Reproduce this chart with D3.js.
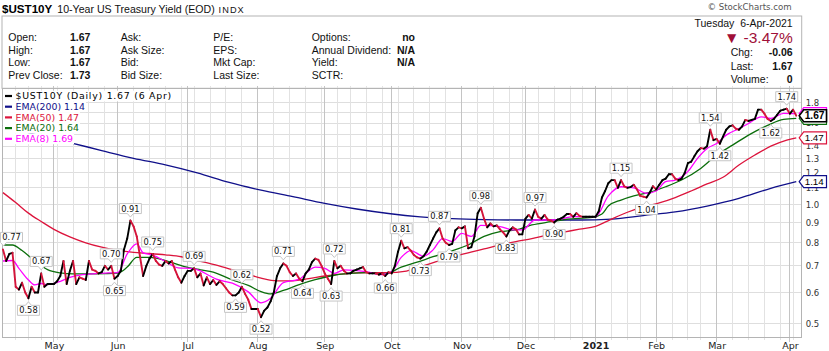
<!DOCTYPE html>
<html><head><meta charset="utf-8">
<script src="https://cdn.jsdelivr.net/npm/d3@7"></script>
<style>
body{margin:0;background:#fff;}
svg{display:block;}
</style></head><body>
<svg id="c" width="829" height="351"></svg>
<script>
// ---------------- data ----------------
const firstIdx = -16; // trading-day index of first value (8-Apr-2020), 0 = 1-May-2020
const monthLabels = ["May","Jun","Jul","Aug","Sep","Oct","Nov","Dec","2021","Feb","Mar","Apr"];
const monthStartIdx = [0,20,42,64,85,106,128,148,170,189,208,231];
const weekStartIdx = [-12,-8,-4,1,6,11,16,25,30,35,40,44,49,54,59,69,74,79,84,89,93,98,103,108,113,118,123,133,138,143,147,152,157,162,166,175,180,184,194,199,203,213,218,223,228,232];
const yTicks = [0.5,0.6,0.7,0.8,0.9,1.0,1.1,1.2,1.3,1.4,1.5,1.6,1.7,1.8];
const yTickLabels = [0.5,0.6,0.7,0.8,0.9,1.0,1.1,1.2,1.3,1.4,1.6,1.8]; // 1.5 and 1.7 sit under the value tags

const yields = [
 0.77,0.72,0.75,0.755,0.62,0.61,0.635,0.60,0.58,0.62,0.60,0.60,0.67,0.62,0.63,0.63,
 0.63,0.64,0.66,0.72,0.63,0.68,0.72,0.63,0.655,0.65,0.645,0.72,0.685,0.68,0.67,0.675,0.70,0.685,0.70,0.65,
 0.66,0.68,0.77,0.82,0.91,0.88,0.83,0.74,0.66,0.70,0.73,0.75,0.72,0.705,0.70,0.72,0.71,0.72,0.685,0.655,0.635,0.66,
 0.68,0.68,0.69,0.655,0.67,0.625,0.655,0.63,0.645,0.627,0.64,0.63,0.615,0.60,0.59,0.59,0.60,0.62,0.595,0.575,0.545,0.545,
 0.545,0.52,0.54,0.55,0.57,0.60,0.66,0.69,0.71,0.70,0.675,0.66,0.67,0.65,0.64,0.67,0.685,0.715,0.73,0.725,0.70,
 0.67,0.65,0.63,0.72,0.69,0.70,0.68,0.67,0.67,0.68,0.685,0.69,0.695,0.675,0.67,0.67,0.67,0.665,0.67,0.66,0.675,
 0.67,0.70,0.76,0.81,0.775,0.78,0.765,0.745,0.735,0.73,0.74,0.76,0.79,0.82,0.85,0.87,0.82,0.80,0.79,0.795,0.86,0.875,
 0.87,0.88,0.775,0.78,0.83,0.95,0.98,0.92,0.875,0.895,0.88,0.885,0.865,0.85,0.83,0.86,0.875,0.865,0.84,0.84,
 0.92,0.94,0.92,0.97,0.93,0.92,0.94,0.915,0.91,0.90,0.915,0.92,0.93,0.945,0.945,0.93,0.95,0.935,0.93,0.93,0.93,0.93,
 0.93,0.96,1.04,1.08,1.13,1.15,1.15,1.10,1.15,1.11,1.10,1.105,1.12,1.09,1.05,1.045,1.04,1.07,1.11,
 1.09,1.12,1.15,1.16,1.19,1.19,1.16,1.15,1.16,1.20,1.27,1.28,1.32,1.36,1.385,1.38,1.40,1.54,1.45,
 1.46,1.42,1.48,1.54,1.57,1.58,1.55,1.54,1.57,1.63,1.62,1.63,1.64,1.73,1.73,1.69,1.64,1.62,1.64,1.68,1.72,1.73,1.74,
 1.69,1.73,1.67
];

const ema200 = [[-16,1.58],[-6,1.50],[5,1.43],[15,1.365],[25,1.305],[35,1.257],[45,1.20],[55,1.135],[65,1.085],[75,1.045],[85,1.005],[95,0.973],[105,0.948],[115,0.93],[125,0.92],[135,0.915],[145,0.913],[155,0.913],[165,0.913],[175,0.918],[185,0.937],[195,0.957],[205,0.99],[215,1.035],[225,1.097],[233,1.14]];
const ema50 = [[-16,1.07],[-12,1.01],[-8,0.95],[-4,0.905],[0,0.865],[5,0.828],[10,0.80],[15,0.78],[20,0.766],[25,0.757],[30,0.752],[35,0.746],[40,0.738],[45,0.722],[50,0.706],[55,0.688],[60,0.67],[65,0.652],[70,0.642],[75,0.642],[80,0.65],[85,0.66],[90,0.667],[95,0.672],[100,0.673],[105,0.673],[110,0.678],[115,0.697],[120,0.717],[125,0.737],[130,0.755],[135,0.772],[140,0.79],[145,0.806],[150,0.82],[155,0.837],[160,0.851],[165,0.866],[170,0.88],[175,0.918],[180,0.955],[185,0.985],[190,1.008],[195,1.04],[200,1.08],[205,1.125],[210,1.17],[215,1.255],[220,1.33],[225,1.40],[230,1.45],[233,1.47]];
const ema20 = [[-16,0.79],[-13,0.79],[-10,0.765],[-6,0.72],[-2,0.685],[2,0.672],[6,0.668],[11,0.668],[16,0.669],[20,0.671],[23,0.695],[26,0.735],[30,0.735],[35,0.722],[41,0.697],[46,0.684],[50,0.675],[56,0.645],[61,0.625],[65,0.603],[68,0.595],[72,0.607],[77,0.628],[82,0.646],[88,0.663],[93,0.67],[98,0.673],[104,0.668],[109,0.695],[114,0.715],[119,0.738],[124,0.76],[130,0.79],[135,0.83],[140,0.853],[145,0.862],[150,0.887],[156,0.904],[161,0.917],[169,0.927],[172,0.945],[174,0.99],[178,1.025],[182,1.05],[187,1.072],[192,1.107],[197,1.151],[203,1.231],[208,1.33],[213,1.409],[218,1.493],[224,1.58],[229,1.635],[233,1.645]];
const ema8 = [[-16,0.72],[-13,0.722],[-11,0.69],[-8,0.645],[-6,0.627],[-4,0.632],[-2,0.628],[2,0.64],[5,0.655],[9,0.665],[12,0.668],[17,0.672],[20,0.673],[23,0.75],[26,0.795],[28,0.755],[31,0.745],[35,0.718],[39,0.692],[43,0.69],[46,0.68],[49,0.66],[51,0.648],[56,0.633],[61,0.602],[65,0.565],[68,0.58],[72,0.635],[77,0.648],[82,0.695],[85,0.69],[88,0.67],[91,0.684],[98,0.677],[103,0.665],[106,0.677],[109,0.735],[112,0.765],[116,0.74],[119,0.768],[122,0.82],[125,0.806],[128,0.845],[131,0.83],[134,0.885],[140,0.879],[144,0.862],[147,0.862],[151,0.913],[157,0.913],[163,0.931],[170,0.931],[174,1.05],[178,1.107],[182,1.10],[186,1.066],[189,1.08],[192,1.14],[195,1.151],[199,1.21],[202,1.305],[205,1.382],[208,1.422],[211,1.493],[215,1.55],[218,1.597],[222,1.66],[225,1.644],[229,1.693],[233,1.69]];

// swing labels: [trading-day index, side]
const swingLabels = [[-16,"up"],[-8,"down"],[-4,"up"],[18,"up"],[19,"down"],[24,"up"],[31,"up"],[44,"up"],[57,"down"],[59,"up"],[65,"down"],[72,"up"],[78,"down"],[87,"down"],[88,"up"],[104,"down"],[109,"up"],[115,"down"],[121,"up"],[124,"down"],[134,"up"],[142,"down"],[151,"up"],[157,"down"],[178,"up"],[186,"down"],[206,"up"],[209,"down"],[225,"down"],[230,"up"]];

const legendItems = [
  {text:"$UST10Y (Daily) 1.67 (6 Apr)", color:"#000000"},
  {text:"EMA(200) 1.14", color:"#10108a"},
  {text:"EMA(50) 1.47", color:"#dc143c"},
  {text:"EMA(20) 1.64", color:"#0b6e0b"},
  {text:"EMA(8) 1.69", color:"#ff00ff"}
];
const infoRows = [
  ["Open:","1.67","Ask:","P/E:","Options:","no"],
  ["High:","1.67","Ask Size:","EPS:","Annual Dividend:","N/A"],
  ["Low:","1.67","Bid:","Mkt Cap:","Yield:","N/A"],
  ["Prev Close:","1.73","Bid Size:","Last Size:","SCTR:",""]
];
const quoteRows = [["Chg:","-0.06"],["Last:","1.67"],["Volume:","0"]];

// ---------------- drawing ----------------
const svg = d3.select("#c");
const L = 2, R = 801.7, T = 88.3, B = 337.7;
const x = d3.scaleLinear().domain([-16.3, 234.7]).range([L, R]);
const y = d3.scaleLog().domain([0.4617, 1.958]).range([B, T]);
const SANS = "'Liberation Sans', Arial, sans-serif";
const DV = "'DejaVu Sans', Verdana, sans-serif";

// header
svg.append("text").attr("x",2).attr("y",12.5).attr("font-family",SANS).attr("font-weight","bold").attr("font-size",11.6).text("$UST10Y");
svg.append("text").attr("x",57.3).attr("y",12.5).attr("font-family",SANS).attr("font-size",10.6).attr("fill","#111").text("10-Year US Treasury Yield (EOD)");
svg.append("text").attr("x",218.5).attr("y",12.5).attr("font-family",SANS).attr("font-size",9.2).attr("letter-spacing",1.1).attr("fill","#111").text("INDX");
svg.append("text").attr("x",791.7).attr("y",10).attr("text-anchor","end").attr("font-family",DV).attr("font-size",8.6).attr("fill","#555").text("\u00A9 StockCharts.com");

svg.append("rect").attr("x",L).attr("y",16).attr("width",R-L).attr("height",T-16).attr("fill","#fff").attr("stroke","#b4b4b4").attr("stroke-width",1);

const rowY = [41, 53.7, 66.4, 79];
infoRows.forEach((r,i)=>{
  const g = svg.append("g").attr("font-family",SANS).attr("font-size",10.5).attr("fill","#111");
  g.append("text").attr("x",8.3).attr("y",rowY[i]).text(r[0]);
  g.append("text").attr("x",70).attr("y",rowY[i]).attr("font-weight","bold").text(r[1]);
  g.append("text").attr("x",120.7).attr("y",rowY[i]).text(r[2]);
  g.append("text").attr("x",213.3).attr("y",rowY[i]).text(r[3]);
  g.append("text").attr("x",311.7).attr("y",rowY[i]).text(r[4]);
  if (r[5]) g.append("text").attr("x",415).attr("y",rowY[i]).attr("text-anchor","end").attr("font-weight","bold").text(r[5]);
});
svg.append("text").attr("x",792.7).attr("y",26.7).attr("text-anchor","end").attr("font-family",SANS).attr("font-size",10.5).attr("fill","#111").attr("xml:space","preserve").text("Tuesday  6-Apr-2021");
svg.append("text").attr("x",792.7).attr("y",43).attr("text-anchor","end").attr("font-family",SANS).attr("font-size",15.5).attr("fill","#a00f38").text("\u25BC -3.47%");
quoteRows.forEach((r,i)=>{
  const yy = 56 + i*13.6;
  svg.append("text").attr("x",730.7).attr("y",yy).attr("font-family",SANS).attr("font-size",10.5).attr("fill","#111").text(r[0]);
  svg.append("text").attr("x",792.7).attr("y",yy).attr("text-anchor","end").attr("font-family",SANS).attr("font-size",10.5).attr("font-weight","bold").attr("fill","#111").text(r[1]);
});

// plot frame + grid
svg.append("rect").attr("x",L).attr("y",T).attr("width",R-L).attr("height",B-T).attr("fill","#fff").attr("stroke","none");
const grid = svg.append("g");
grid.selectAll("line.h").data(yTicks).join("line")
  .attr("x1",L).attr("x2",R).attr("y1",d=>y(d)).attr("y2",d=>y(d))
  .attr("stroke","#dedede").attr("stroke-width",1).attr("shape-rendering","crispEdges");
grid.selectAll("line.w").data(weekStartIdx).join("line")
  .attr("x1",d=>x(d)).attr("x2",d=>x(d)).attr("y1",T-2).attr("y2",B+2)
  .attr("stroke","#e2e2e2").attr("stroke-width",1).attr("shape-rendering","crispEdges");
grid.selectAll("line.m").data(monthStartIdx).join("line")
  .attr("x1",d=>x(d)).attr("x2",d=>x(d)).attr("y1",T-2).attr("y2",B+4)
  .attr("stroke","#c4c4c4").attr("stroke-width",1).attr("shape-rendering","crispEdges");
svg.append("rect").attr("x",L).attr("y",T).attr("width",R-L).attr("height",B-T).attr("fill","none").attr("stroke","#b4b4b4").attr("stroke-width",1).attr("shape-rendering","crispEdges");

// month axis
const xAxis = d3.axisBottom(x).tickValues(monthStartIdx).tickSize(0).tickFormat((d,i)=>monthLabels[i]);
const xg = svg.append("g").attr("transform",`translate(0,${B})`).call(xAxis);
xg.select(".domain").remove();
xg.selectAll("text").attr("font-family",DV).attr("font-size",9.5).attr("fill","#222").attr("dy","0").attr("y",11)
  .attr("font-weight",(d,i)=>monthLabels[i]==="2021"?"bold":"normal");

// y axis labels (right)
const yAxis = d3.axisRight(y).tickValues(yTickLabels).tickSize(0).tickPadding(4).tickFormat(d3.format(".1f"));
const yg = svg.append("g").attr("transform",`translate(${R},0)`).call(yAxis);
yg.select(".domain").remove();
yg.selectAll("text").attr("font-family",DV).attr("font-size",8.5).attr("fill","#333");

// clip
svg.append("clipPath").attr("id","plot").append("rect").attr("x",L).attr("y",T).attr("width",R-L).attr("height",B-T);
const plot = svg.append("g").attr("clip-path","url(#plot)");

const emaLine = d3.line().x(d=>x(d[0])).y(d=>y(d[1])).curve(d3.curveMonotoneX);
[[ema200,"#10108a"],[ema50,"#dc143c"],[ema20,"#0b6e0b"],[ema8,"#ff00ff"]].forEach(([data,col])=>{
  plot.append("path").datum(data).attr("d",emaLine).attr("fill","none").attr("stroke",col).attr("stroke-width",1.3);
});

// price line: black on up days, red on down days
const pts = yields.map((v,i)=>[firstIdx+i, v]);
const segs = d3.pairs(pts);
plot.selectAll("line.p").data(segs).join("line")
  .attr("x1",d=>x(d[0][0])).attr("y1",d=>y(d[0][1]))
  .attr("x2",d=>x(d[1][0])).attr("y2",d=>y(d[1][1]))
  .attr("stroke",d=>d[1][1] < d[0][1] ? "#d4143a" : "#000")
  .attr("stroke-width",1.9).attr("stroke-linecap","round");

// swing labels
const fmt = d3.format(".2f");
const lab = svg.append("g");
swingLabels.forEach(([idx,side])=>{
  const v = yields[idx-firstIdx];
  const px = x(idx), py = y(v);
  const w = 22, h = 10;
  const cx = Math.max(px, w/2 + 0.5);   // keep the box inside the picture
  const up = side === "up";
  const bTop = up ? py - 7 - h : py + 7;
  const bBot = bTop + h;
  const x0 = cx - w/2, x1 = cx + w/2;
  const tx = Math.max(px, x0 + 3);
  let p;
  if (up) p = `M${x0},${bTop}H${x1}V${bBot}H${tx+3}L${tx},${bBot+3.5}L${tx-3},${bBot}H${x0}Z`;
  else p = `M${x0},${bTop}H${tx-3}L${tx},${bTop-3.5}L${tx+3},${bTop}H${x1}V${bBot}H${x0}Z`;
  lab.append("path").attr("d",p).attr("fill","#fff").attr("stroke","#c6c6c6").attr("stroke-width",1);
  lab.append("text").attr("x",cx).attr("y",bTop + h/2).attr("dy","0.36em").attr("text-anchor","middle")
    .attr("font-family",DV).attr("font-size",8.3).attr("fill","#111").text(fmt(v));
});

// legend
const lg = svg.append("g");
legendItems.forEach((it,i)=>{
  const cy = 96 + i*10.7;
  const t = lg.append("text").attr("x",15.5).attr("y",cy).attr("dy","0.35em").attr("font-family",DV).attr("font-size",9.4).attr("fill",it.color)
    .attr("letter-spacing", i===0 ? 0.75 : 0).text(it.text);
  const bb = t.node().getBBox();
  lg.insert("rect","text").attr("x",L+1).attr("y",cy-5.3).attr("width",bb.x+bb.width-L).attr("height",10.7).attr("fill","#fff");
  lg.append("line").attr("x1",5).attr("x2",12).attr("y1",cy).attr("y2",cy).attr("stroke",it.color).attr("stroke-width",2.2);
});

// right-side value tags (EMA(8) and EMA(20) tags lie under the price tag)
function tag(v, col, bold, showText){
  const yc = y(v), x0 = R - 2.5, x1 = 826.5, h = 12;
  const g = svg.append("g");
  g.append("path").attr("d",`M${x0},${yc}L${x0+4.5},${yc-h/2}H${x1}V${yc+h/2}H${x0+4.5}Z`)
    .attr("fill","#fff").attr("stroke",col).attr("stroke-width",bold?1.6:1.2);
  if (showText) g.append("text").attr("x",x0+5.5).attr("y",yc).attr("dy","0.35em").attr("font-family",SANS)
    .attr("font-size",bold?10.2:9.8).attr("font-weight",bold?"bold":"normal").attr("fill","#000").text(fmt(v));
}
tag(ema8[ema8.length-1][1], "#ff00ff", false, false);
tag(ema20[ema20.length-1][1], "#0b6e0b", false, false);
tag(yields[yields.length-1], "#000", true, true);
tag(ema50[ema50.length-1][1], "#dc143c", false, true);
tag(ema200[ema200.length-1][1], "#10108a", false, true);
</script>
</body></html>
